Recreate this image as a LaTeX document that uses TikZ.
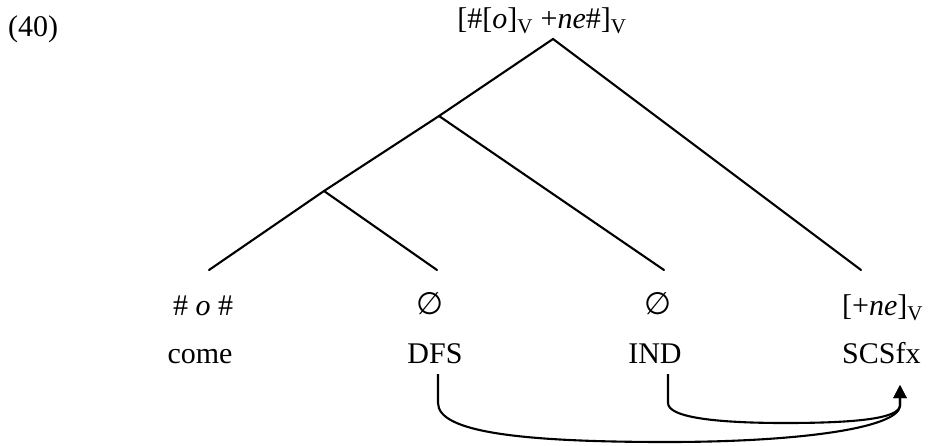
\documentclass[tikz,border=0pt]{standalone}
\usepackage{fontspec}
\setmainfont{Liberation Serif}
\newfontfamily\symfont{DejaVu Sans}
\usetikzlibrary{arrows.meta}
\begin{document}
\begin{tikzpicture}[x=1pt,y=-1pt,
  txt/.style={font=\fontsize{30}{36}\selectfont, inner sep=0pt, anchor=base},
  br/.style={line width=2.1pt, line cap=round},
  mv/.style={line width=2.1pt, -{Triangle[length=13pt,width=13pt]}}]
\useasboundingbox (0,0) rectangle (931,445);
% labels
\node[txt, anchor=base west] (ex) at (8,36) {(40)};
\node[txt] (top) at (542,28) {[\#[\textit{o}]\textsubscript{V} +\textit{ne}\#]\textsubscript{V}};
\node[txt] (f1) at (203,315) {\# \textit{o} \#};
\node[txt] (f2) at (430,314) {{\symfont\fontsize{31}{36}\selectfont ∅}};
\node[txt] (f3) at (658,314) {{\symfont\fontsize{31}{36}\selectfont ∅}};
\node[txt, anchor=base west] (f4) at (842,315) {[+\textit{ne}]\textsubscript{V}};
\node[txt] (g1) at (200,363) {come};
\node[txt] (g2) at (435,363) {DFS};
\node[txt] (g3) at (655,363) {IND};
\node[txt, anchor=base west] (g4) at (842,363) {SCSfx};
% tree
\coordinate (root) at (553,39);
\coordinate (n1) at (439,116);
\coordinate (n2) at (324,191);
\coordinate (l1) at (209,270);
\coordinate (l2) at (437,270);
\coordinate (l3) at (664,270);
\coordinate (l4) at (861,270);
\draw[br] (l1) -- (n2) -- (n1) -- (root) -- (l4);
\draw[br] (n1) -- (l3);
\draw[br] (n2) -- (l2);
% movement arrows
\coordinate (d1) at (438,374);
\coordinate (i1) at (668,374);
\coordinate (tgt) at (900,385);
\draw[mv] (d1) -- (438,403) .. controls (438,432) and (520,442) .. (667,442)
  .. controls (800,442) and (898,428) .. (900,406) -- (tgt);
\draw[mv] (i1) -- (668,403) .. controls (668,418) and (720,423) .. (785,423)
  .. controls (860,423) and (898,418) .. (900,406) -- (tgt);
\end{tikzpicture}
\end{document}
